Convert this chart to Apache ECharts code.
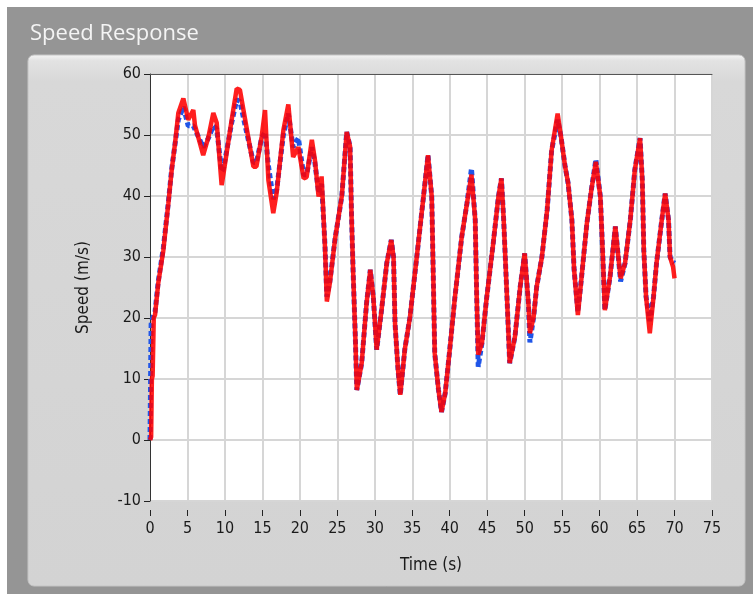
<!DOCTYPE html>
<html>
<head>
<meta charset="UTF-8">
<title>Speed Response</title>
<script src="https://cdn.jsdelivr.net/npm/echarts@6/dist/echarts.min.js"></script>
<style>
html, body { margin: 0; padding: 0; background: #fff; }
#main { width: 753px; height: 594px; }
</style>
</head>
<body>
<div id="main"></div>
<script type="text/javascript">
// time (s)
var time = [0, 0.15, 0.25, 0.35, 0.5, 0.67, 1.1, 1.78, 2.45, 2.9, 3.34, 3.78, 4.45, 5.1, 5.78, 6.0, 7.1, 7.8, 8.45, 8.9,
  9.56, 9.8, 10.9, 11.57, 12.0, 12.7, 13.8, 14.2, 14.9, 15.35, 15.8, 16.45, 16.9, 17.8, 18.46, 19.1, 19.8, 20.5, 20.9, 21.6,
  22.0, 22.5, 22.9, 23.35, 23.6, 24.0, 24.7, 25.6, 26.25, 26.7, 26.9, 27.1, 27.4, 27.6, 28.25, 28.9, 29.4, 29.8, 30.25, 30.9,
  31.6, 32.2, 32.5, 32.7, 33.1, 33.4, 34.0, 34.7, 35.6, 36.5, 37.1, 37.6, 38.0, 38.5, 38.9, 39.4, 40.0, 40.7, 41.6, 42.3,
  42.9, 43.4, 43.6, 43.8, 44.3, 44.9, 45.8, 46.5, 46.9, 47.2, 47.6, 48.0, 48.7, 49.4, 50.0, 50.5, 50.7, 51.2, 51.6, 52.3,
  53.0, 53.6, 54.4, 54.85, 55.4, 55.8, 56.3, 56.6, 57.1, 57.6, 58.3, 58.9, 59.5, 60.1, 60.4, 60.7, 61.4, 62.1, 62.5, 62.8,
  63.4, 64.1, 64.7, 65.4, 65.7, 65.9, 66.2, 66.7, 67.2, 67.6, 68.3, 68.75, 69.2, 69.4, 69.8, 70.0];

// reference speed (blue, dashed)
var referenceSpeed = [0, 19, 19.5, 20, 20.5, 21, 26, 31.5, 39, 44.5, 48.5, 52.5, 54.6, 51.5, 51.5, 51.2, 48, 49.5, 51.5, 51,
  44, 44.5, 52, 55.8, 55.5, 51.5, 45.5, 45.5, 49.5, 50.5, 45, 39.5, 41, 50, 53.5, 48, 49.5, 43.5, 43.5, 48,
  45.5, 40.5, 42, 32, 23.5, 26, 33, 40, 50.5, 48.1, 36.6, 27.9, 16.9, 8.2, 12.6, 22.4, 27.9, 23.5, 14.8, 21.3,
  29, 32.8, 30, 19.1, 11.5, 7.4, 14.8, 20.2, 30, 39.9, 46.7, 39.9, 14.2, 8.2, 4.6, 7.7, 14.8, 23.5, 33.3, 38.8,
  44.5, 36.1, 23.5, 12, 15.9, 23, 32.2, 39.9, 42.9, 36.1, 24.6, 12.6, 16.9, 25.1, 30.6, 22.4, 16, 20.2, 25.1, 30,
  37.7, 47.5, 52.5, 49.7, 44.8, 42.1, 36.1, 27.9, 21, 26.8, 35.5, 41, 46, 39.9, 31.1, 21.3, 26.8, 35, 30, 26,
  29, 36.1, 44.3, 49.5, 42.6, 31.1, 23.5, 19.5, 23.5, 29, 36.1, 40.4, 36.1, 30, 29.2, 29];

// measured speed (red)
var measuredSpeed = [0, 0.5, 10, 10.5, 20, 20.5, 25.7, 31.1, 38.8, 44.3, 48.6, 53.6, 56, 52.5, 54.1, 51.6, 46.7, 49.7, 53.6, 52,
  41.8, 43.6, 52.5, 57.6, 57.4, 52.5, 44.8, 44.8, 49.7, 54.1, 42.6, 37.2, 40.5, 50.8, 55, 46.4, 48, 42.9, 43.1, 49.2,
  46, 39.9, 43.2, 31.7, 22.7, 25.7, 33, 40, 50.5, 48.1, 36.6, 27.9, 16.9, 8.2, 12.6, 22.4, 27.9, 23.5, 14.8, 21.3,
  29, 32.8, 30, 19.1, 11.5, 7.4, 14.8, 20.2, 30, 39.9, 46.7, 39.9, 14.2, 8.2, 4.6, 7.7, 14.8, 23.5, 33.3, 38.8,
  43.5, 36.1, 23.5, 14, 15.9, 23, 32.2, 39.9, 42.9, 36.1, 24.6, 12.6, 16.9, 25.1, 30.6, 22.4, 17.5, 20.2, 25.1, 30,
  37.7, 47.5, 53.5, 49.7, 44.8, 42.1, 36.1, 27.9, 20.5, 26.8, 35.5, 41, 45.6, 39.9, 31.1, 21.3, 26.8, 35, 30, 26.5,
  29, 36.1, 44.3, 49.5, 42.6, 31.1, 23.5, 17.5, 23.5, 29, 36.1, 40.4, 36.1, 30, 28.4, 26.5];

var xTicks = { min: 0, max: 75, step: 5 };
var yTicks = { min: -10, max: 60, step: 10 };

function pairs(xs, ys) {
  var out = [];
  for (var i = 0; i < xs.length; i++) out.push([xs[i], ys[i]]);
  return out;
}

var myChart = echarts.init(document.getElementById('main'));
var labelFont = 'Liberation Sans Narrow, DejaVu Sans Condensed, sans-serif';

var option = {
  backgroundColor: '#ffffff',
  animation: false,
  title: {
    text: 'Speed Response',
    left: 25, top: 18,
    textStyle: { color: '#f4f4f4', fontSize: 22, fontWeight: 'normal', fontFamily: 'Open Sans, sans-serif' }
  },
  graphic: [
    { type: 'rect', z: -20, silent: true, shape: { x: 7, y: 7, width: 746, height: 587 },
      style: { fill: '#959595' } },
    { type: 'rect', z: -19, silent: true, shape: { x: 28, y: 55, width: 717, height: 531, r: 6 },
      style: {
        fill: new echarts.graphic.LinearGradient(0, 0, 0, 1, [
          { offset: 0, color: '#f6f6f6' }, { offset: 0.012, color: '#e2e2e2' }, { offset: 0.05, color: '#d8d8d8' }, { offset: 1, color: '#d3d3d3' }
        ]),
        stroke: '#c4c4c4', lineWidth: 1
      } }
  ],
  grid: {
    left: 150, top: 74, width: 562, height: 427,
    show: true, backgroundColor: '#ffffff', borderWidth: 0
  },
  xAxis: [{
    type: 'value', min: xTicks.min, max: xTicks.max, interval: xTicks.step,
    position: 'bottom',
    name: 'Time (s)', nameLocation: 'middle', nameGap: 47,
    nameTextStyle: { color: '#1a1a1a', fontSize: 17, fontFamily: labelFont },
    offset: 9,
    axisLine: { show: false, onZero: false },
    axisTick: { show: true, inside: false, length: 6, lineStyle: { color: '#222', width: 1 } },
    axisLabel: { color: '#1a1a1a', fontSize: 16, margin: 11, fontFamily: labelFont },
    splitLine: { show: true, lineStyle: { color: '#d6d6d6', width: 2 } }
  }, {
    type: 'value', position: 'top', min: xTicks.min, max: xTicks.max,
    axisLine: { show: true, onZero: false, lineStyle: { color: '#555', width: 1 } },
    axisTick: { show: false }, axisLabel: { show: false }, splitLine: { show: false }
  }],
  yAxis: {
    type: 'value', min: yTicks.min, max: yTicks.max, interval: yTicks.step,
    name: 'Speed (m/s)', nameLocation: 'middle', nameGap: 58, nameRotate: 90,
    nameTextStyle: { color: '#1a1a1a', fontSize: 17, fontFamily: labelFont },
    axisLine: { show: true, onZero: false, lineStyle: { color: '#333', width: 1 } },
    axisTick: { show: true, inside: false, length: 6, lineStyle: { color: '#222', width: 1 } },
    axisLabel: { color: '#1a1a1a', fontSize: 16, margin: 9, fontFamily: labelFont },
    splitLine: { show: true, lineStyle: { color: '#d6d6d6', width: 2 } }
  },
  series: [{
    name: 'Reference',
    type: 'line',
    data: pairs(time, referenceSpeed),
    showSymbol: false,
    lineStyle: { color: '#1f55e8', width: 5, type: [5, 3] },
    z: 3
  }, {
    name: 'Measured',
    type: 'line',
    data: pairs(time, measuredSpeed),
    showSymbol: false,
    lineStyle: { color: '#ff0000', width: 4.5, opacity: 0.88 },
    z: 4
  }]
};
myChart.setOption(option);
</script>
</body>
</html>
